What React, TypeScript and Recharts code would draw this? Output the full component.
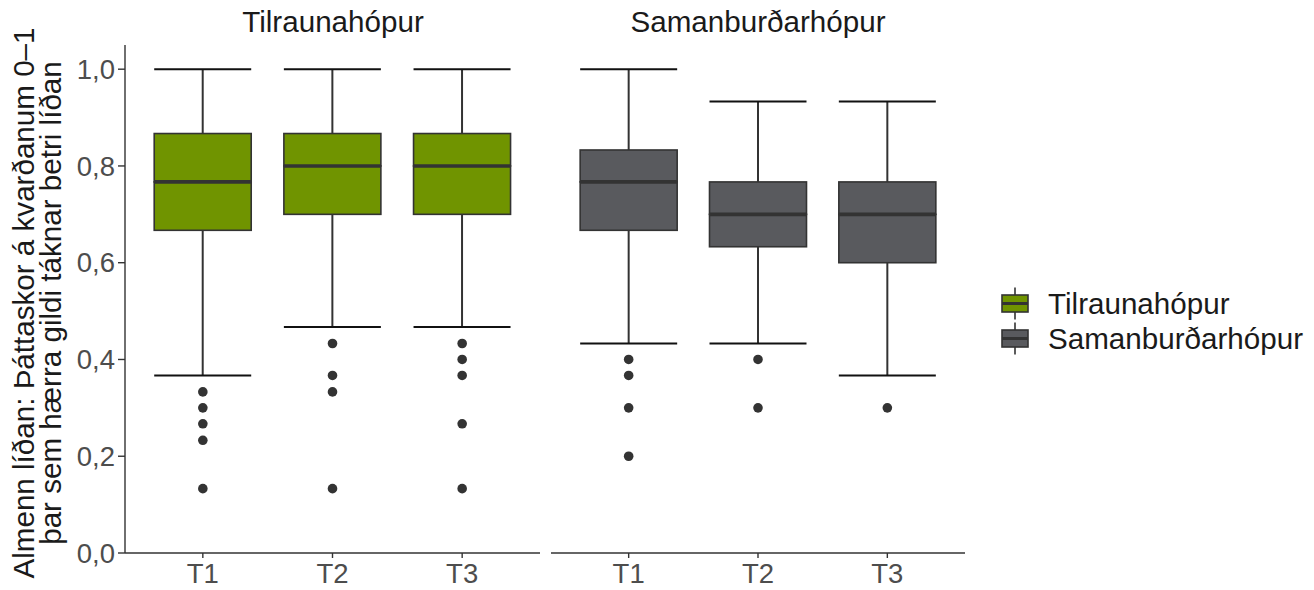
import React from 'react';
import { ComposedChart, Bar, Line, XAxis, YAxis } from 'recharts';

// ---------- data ----------
const timepoints = ['T1', 'T2', 'T3'];
const yTicks = [0, 0.2, 0.4, 0.6, 0.8, 1.0];
const groupNames = ['Tilraunahópur', 'Samanburðarhópur'];
const groupColors = ['#709400', '#595A5E'];

// Tilraunahópur
const tilrLowerWhisker = [0.367, 0.467, 0.467];
const tilrQ1 = [0.667, 0.7, 0.7];
const tilrMedian = [0.767, 0.8, 0.8];
const tilrQ3 = [0.867, 0.867, 0.867];
const tilrUpperWhisker = [1.0, 1.0, 1.0];
const tilrOutliersT1 = [0.333, 0.3, 0.267, 0.233, 0.133];
const tilrOutliersT2 = [0.433, 0.367, 0.333, 0.133];
const tilrOutliersT3 = [0.433, 0.4, 0.367, 0.267, 0.133];

// Samanburðarhópur
const samLowerWhisker = [0.433, 0.433, 0.367];
const samQ1 = [0.667, 0.633, 0.6];
const samMedian = [0.767, 0.7, 0.7];
const samQ3 = [0.833, 0.767, 0.767];
const samUpperWhisker = [1.0, 0.933, 0.933];
const samOutliersT1 = [0.4, 0.367, 0.3, 0.2];
const samOutliersT2 = [0.4, 0.3];
const samOutliersT3 = [0.3];

const MAX_OUT = 5;

function buildRows(lo: number[], q1: number[], med: number[], q3: number[], hi: number[], outs: number[][]) {
  return timepoints.map((t, i) => {
    const row: any = {
      t,
      base: lo[i],
      wLow: q1[i] - lo[i],
      bLow: med[i] - q1[i],
      bHigh: q3[i] - med[i],
      wHigh: hi[i] - q3[i],
    };
    for (let k = 0; k < MAX_OUT; k++) row['o' + k] = outs[i][k] ?? null;
    return row;
  });
}

const tilrRows = buildRows(tilrLowerWhisker, tilrQ1, tilrMedian, tilrQ3, tilrUpperWhisker, [tilrOutliersT1, tilrOutliersT2, tilrOutliersT3]);
const samRows = buildRows(samLowerWhisker, samQ1, samMedian, samQ3, samUpperWhisker, [samOutliersT1, samOutliersT2, samOutliersT3]);

// ---------- styles ----------
const FONT = '"Liberation Sans", Arial, Helvetica, sans-serif';
const LINE = '#333333';
const CAP = '#111111';
const AXIS = '#333333';
const TICK_FONT = 27.5;
const TEXT_FONT = 29.6;

const Empty = () => <g />;

const WhiskerLow = (p: any) => {
  const { x, y, width, height } = p;
  const cx = x + width / 2;
  return (
    <g>
      <line x1={cx} x2={cx} y1={y} y2={y + height} stroke={LINE} strokeWidth={2} />
      <line x1={x} x2={x + width} y1={y + height} y2={y + height} stroke={CAP} strokeWidth={2} />
    </g>
  );
};

const WhiskerHigh = (p: any) => {
  const { x, y, width, height } = p;
  const cx = x + width / 2;
  return (
    <g>
      <line x1={cx} x2={cx} y1={y} y2={y + height} stroke={LINE} strokeWidth={2} />
      <line x1={x} x2={x + width} y1={y} y2={y} stroke={CAP} strokeWidth={2} />
    </g>
  );
};

const makeBoxLow = (fill: string) => (p: any) => (
  <rect x={p.x} y={p.y} width={p.width} height={p.height} fill={fill} stroke={LINE} strokeWidth={1.6} />
);

const makeBoxHigh = (fill: string) => (p: any) => (
  <g>
    <rect x={p.x} y={p.y} width={p.width} height={p.height} fill={fill} stroke={LINE} strokeWidth={1.6} />
    <line x1={p.x} x2={p.x + p.width} y1={p.y + p.height} y2={p.y + p.height} stroke={LINE} strokeWidth={3.6} />
  </g>
);

const fmt = (v: number) => v.toFixed(1).replace('.', ',');

function Panel({ rows, color, showY, width, marginLeft, marginRight }: any) {
  return (
    <ComposedChart
      width={width}
      height={590}
      data={rows}
      margin={{ top: 45, right: marginRight, bottom: 0, left: marginLeft }}
      barCategoryGap="12.5%"
    >
      <XAxis
        dataKey="t"
        type="category"
        interval={0}
        padding={{ left: 13, right: 13 }}
        height={37}
        tickSize={5}
        tickMargin={5}
        tick={{ fontSize: TICK_FONT, fill: '#4D4D4D' }}
        axisLine={{ stroke: AXIS, strokeWidth: 1.4 }}
        tickLine={{ stroke: AXIS, strokeWidth: 1.4 }}
      />
      <YAxis
        type="number"
        domain={[0, 1.05]}
        ticks={yTicks}
        allowDataOverflow
        hide={!showY}
        width={80}
        tickFormatter={fmt}
        tickSize={7}
        tickMargin={3}
        tick={{ fontSize: TICK_FONT, fill: '#4D4D4D' }}
        axisLine={{ stroke: AXIS, strokeWidth: 1.4 }}
        tickLine={{ stroke: AXIS, strokeWidth: 1.4 }}
      />
      <Bar dataKey="base" stackId="box" shape={Empty} isAnimationActive={false} legendType="none" />
      <Bar dataKey="wLow" stackId="box" shape={WhiskerLow} isAnimationActive={false} legendType="none" />
      <Bar dataKey="bLow" stackId="box" shape={makeBoxLow(color)} isAnimationActive={false} legendType="none" />
      <Bar dataKey="bHigh" stackId="box" shape={makeBoxHigh(color)} isAnimationActive={false} legendType="none" />
      <Bar dataKey="wHigh" stackId="box" shape={WhiskerHigh} isAnimationActive={false} legendType="none" />
      {Array.from({ length: MAX_OUT }, (_, k) => (
        <Line
          key={k}
          dataKey={'o' + k}
          stroke="none"
          isAnimationActive={false}
          legendType="none"
          activeDot={false}
          dot={{ r: 4.8, fill: '#333333', stroke: 'none', fillOpacity: 1 }}
        />
      ))}
    </ComposedChart>
  );
}

function LegendKey({ y, color }: any) {
  const x0 = 1002;
  const w = 26;
  const cx = x0 + w / 2;
  return (
    <g>
      <line x1={cx} x2={cx} y1={y - 16} y2={y + 16} stroke={LINE} strokeWidth={1.6} />
      <rect x={x0} y={y - 8.5} width={w} height={17} fill={color} stroke={LINE} strokeWidth={1.6} />
      <line x1={x0} x2={x0 + w} y1={y} y2={y} stroke={LINE} strokeWidth={3} />
    </g>
  );
}

export default function App() {
  return (
    <div style={{ position: 'absolute', left: 0, top: 0, width: 1314, height: 590, background: '#fff', fontFamily: FONT }}>
      <div style={{ position: 'absolute', left: 0, top: 0 }}>
        <Panel rows={tilrRows} color={groupColors[0]} showY width={545} marginLeft={45} marginRight={5} />
      </div>
      <div style={{ position: 'absolute', left: 545, top: 0 }}>
        <Panel rows={samRows} color={groupColors[1]} showY={false} width={420} marginLeft={6} marginRight={0} />
      </div>
      <svg
        width={1314}
        height={590}
        style={{ position: 'absolute', left: 0, top: 0, pointerEvents: 'none', fontFamily: FONT }}
      >
        <text x={333} y={32} textAnchor="middle" fontSize={TEXT_FONT} fill="#1A1A1A">{groupNames[0]}</text>
        <text x={758} y={32} textAnchor="middle" fontSize={TEXT_FONT} fill="#1A1A1A">{groupNames[1]}</text>
        <g transform="rotate(-90)">
          <text x={-303} y={34} textAnchor="middle" fontSize={TEXT_FONT} fill="#1A1A1A">Almenn líðan: Þáttaskor á kvarðanum 0–1</text>
          <text x={-303} y={61} textAnchor="middle" fontSize={TEXT_FONT} fill="#1A1A1A">þar sem hærra gildi táknar betri líðan</text>
        </g>
        <LegendKey y={303.5} color={groupColors[0]} />
        <LegendKey y={338.5} color={groupColors[1]} />
        <text x={1048} y={313.5} fontSize={TEXT_FONT} fill="#1A1A1A">{groupNames[0]}</text>
        <text x={1048} y={348.5} fontSize={TEXT_FONT} fill="#1A1A1A">{groupNames[1]}</text>
      </svg>
    </div>
  );
}
